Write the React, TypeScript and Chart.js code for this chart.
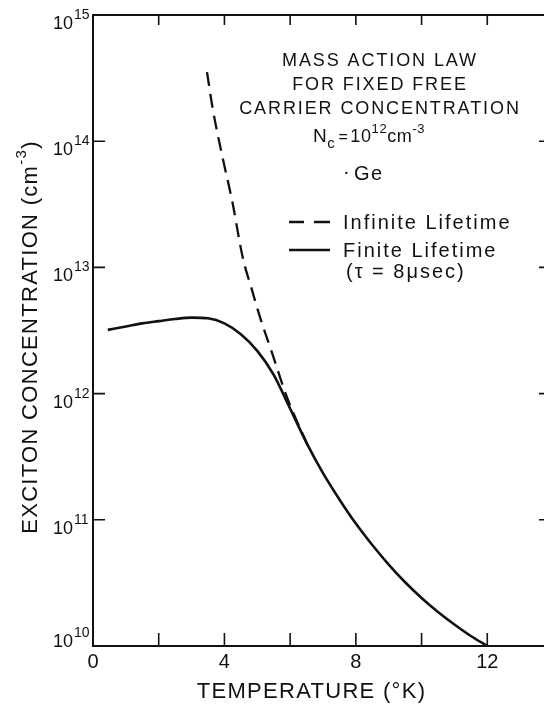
import { useEffect, useRef } from "react";
import { Chart, registerables } from "chart.js";

Chart.register(...registerables);

const FONT = '"Liberation Sans", Arial, sans-serif';
const INK = "#111";

// Finite lifetime (tau = 8 usec) curve
const TEMP_FINITE = [0.45, 1.0, 1.5, 2.0, 2.5, 3.0, 3.5, 4.0, 4.5, 5.0, 5.5, 6.0, 6.5, 7.0, 7.5, 8.0, 8.5, 9.0, 9.5, 10.0, 10.5, 11.0, 11.5, 12.0];
const CONC_FINITE = [3.2e12, 3.4e12, 3.6e12, 3.75e12, 3.9e12, 4.0e12, 3.95e12, 3.6e12, 2.95e12, 2.18e12, 1.41e12, 7.6e11, 4.07e11, 2.34e11, 1.45e11, 9.33e10, 6.31e10, 4.42e10, 3.2e10, 2.4e10, 1.86e10, 1.48e10, 1.2e10, 1.0e10];

// Infinite lifetime curve
const TEMP_INFINITE = [3.47, 3.65, 3.96, 4.23, 4.56, 4.84, 5.08, 5.45, 5.9, 6.6];
const CONC_INFINITE = [3.53e14, 1.77e14, 7.1e13, 3.42e13, 1.19e13, 6.6e12, 4.05e12, 2.1e12, 9.4e11, 3.57e11];

const X_MIN = 0;
const X_MAX = 14;
const X_TICKS = [2, 4, 6, 8, 10, 12];
const X_TICK_LABELS = [0, 4, 8, 12];
const Y_DECADES = [10, 11, 12, 13, 14, 15];

const X_TITLE = "TEMPERATURE (°K)";
const Y_TITLE = "EXCITON CONCENTRATION (cm";
const Y_TITLE_EXP = "-3";
const NOTE_LINES = ["MASS ACTION LAW", "FOR FIXED FREE", "CARRIER CONCENTRATION"];
const MATERIAL = "Ge";
const LEGEND_LABELS = ["Infinite Lifetime", "Finite Lifetime"];
const LIFETIME_NOTE = "(τ = 8μsec)";

type Piece = { text: string; size: number; rise: number; gap?: number };

function drawPieces(ctx: CanvasRenderingContext2D, pieces: Piece[], x: number, y: number, spacing = 0) {
  let cx = x;
  for (const p of pieces) {
    ctx.font = `${p.size}px ${FONT}`;
    ctx.letterSpacing = `${spacing}px`;
    ctx.fillText(p.text, cx, y - p.rise);
    cx += ctx.measureText(p.text).width + (p.gap ?? 0);
  }
  return cx;
}

function piecesWidth(ctx: CanvasRenderingContext2D, pieces: Piece[], spacing = 0) {
  let w = 0;
  for (const p of pieces) {
    ctx.font = `${p.size}px ${FONT}`;
    ctx.letterSpacing = `${spacing}px`;
    w += ctx.measureText(p.text).width + (p.gap ?? 0);
  }
  return w;
}

const decorations = {
  id: "decorations",
  afterDatasetsDraw(chart: any) {
    const { ctx, chartArea: a, scales } = chart;
    const xs = scales.x;
    const ys = scales.y;
    ctx.save();
    ctx.fillStyle = INK;
    ctx.strokeStyle = INK;
    ctx.lineCap = "butt";

    // frame
    ctx.lineWidth = 2;
    ctx.strokeRect(a.left, a.top, a.right - a.left, a.bottom - a.top);

    // ticks pointing into the plot
    ctx.lineWidth = 1.6;
    ctx.beginPath();
    for (const t of X_TICKS) {
      const px = xs.getPixelForValue(t);
      ctx.moveTo(px, a.bottom);
      ctx.lineTo(px, a.bottom - 13);
      ctx.moveTo(px, a.top);
      ctx.lineTo(px, a.top + 10);
    }
    for (const d of Y_DECADES.slice(1, -1)) {
      const py = ys.getPixelForValue(Math.pow(10, d));
      ctx.moveTo(a.left, py);
      ctx.lineTo(a.left + 12, py);
      ctx.moveTo(a.right, py);
      ctx.lineTo(a.right - 14, py);
    }
    ctx.stroke();

    // x tick labels
    ctx.font = `20px ${FONT}`;
    ctx.letterSpacing = "0px";
    ctx.textAlign = "center";
    ctx.textBaseline = "alphabetic";
    for (const t of X_TICK_LABELS) {
      ctx.fillText(String(t), xs.getPixelForValue(t), a.bottom + 22);
    }

    // y tick labels: 10 with raised exponent
    for (const d of Y_DECADES) {
      const py = ys.getPixelForValue(Math.pow(10, d));
      const shift = d === Y_DECADES[0] ? -13 : 0;
      ctx.textAlign = "right";
      ctx.font = `18px ${FONT}`;
      ctx.fillText("10", a.left - 20, py + 14 + shift);
      ctx.textAlign = "left";
      ctx.font = `14px ${FONT}`;
      ctx.fillText(String(d), a.left - 19, py + 4 + shift);
    }

    // x axis title
    ctx.textAlign = "center";
    ctx.font = `22px ${FONT}`;
    ctx.letterSpacing = "1.3px";
    ctx.fillText(X_TITLE, (a.left + 530) / 2, 698);

    // y axis title, rotated
    ctx.save();
    ctx.translate(37, 337);
    ctx.rotate(-Math.PI / 2);
    ctx.textAlign = "left";
    const yTitle: Piece[] = [
      { text: Y_TITLE, size: 22, rise: 0 },
      { text: Y_TITLE_EXP, size: 15, rise: 11 },
      { text: ")", size: 22, rise: 0 },
    ];
    const yw = piecesWidth(ctx, yTitle, 1.3);
    drawPieces(ctx, yTitle, -yw / 2, 0, 1.3);
    ctx.restore();

    // annotation block
    ctx.textAlign = "center";
    ctx.font = `18px ${FONT}`;
    ctx.letterSpacing = "1.9px";
    NOTE_LINES.forEach((line, i) => ctx.fillText(line, 380, 66 + i * 24));

    ctx.textAlign = "left";
    const nc: Piece[] = [
      { text: "N", size: 19, rise: 0 },
      { text: "c", size: 15, rise: -6, gap: 3 },
      { text: "=", size: 16, rise: 0, gap: 2 },
      { text: "10", size: 18, rise: 0 },
      { text: "12", size: 13, rise: 9 },
      { text: "cm", size: 18, rise: 0 },
      { text: "-3", size: 13, rise: 9 },
    ];
    drawPieces(ctx, nc, 313, 142, 0.6);

    ctx.font = `20px ${FONT}`;
    ctx.letterSpacing = "1.5px";
    ctx.fillText("·", 343, 178);
    ctx.fillText(MATERIAL, 354, 180);

    // legend
    ctx.letterSpacing = "2px";
    ctx.font = `20px ${FONT}`;
    ctx.fillText(LEGEND_LABELS[0], 343, 229);
    ctx.fillText(LEGEND_LABELS[1], 343, 257);
    ctx.fillText(LIFETIME_NOTE, 346, 278);

    ctx.lineWidth = 2.4;
    ctx.beginPath();
    ctx.moveTo(289, 222);
    ctx.lineTo(304, 222);
    ctx.moveTo(314, 222);
    ctx.lineTo(330, 222);
    ctx.moveTo(289, 250);
    ctx.lineTo(330, 250);
    ctx.stroke();

    ctx.restore();
  },
};

export default function App() {
  const canvasRef = useRef<HTMLCanvasElement | null>(null);

  useEffect(() => {
    const canvas = canvasRef.current;
    if (!canvas) return;
    const chart = new Chart(canvas, {
      type: "line",
      data: {
        datasets: [
          {
            label: LEGEND_LABELS[0],
            data: TEMP_INFINITE.map((t, i) => ({ x: t, y: CONC_INFINITE[i] })),
            borderColor: INK,
            borderWidth: 2.3,
            borderDash: [14, 8],
            pointRadius: 0,
            cubicInterpolationMode: "monotone",
            fill: false,
          },
          {
            label: LEGEND_LABELS[1],
            data: TEMP_FINITE.map((t, i) => ({ x: t, y: CONC_FINITE[i] })),
            borderColor: INK,
            borderWidth: 2.6,
            pointRadius: 0,
            cubicInterpolationMode: "monotone",
            fill: false,
          },
        ],
      },
      options: {
        animation: false,
        responsive: false,
        events: [],
        layout: { padding: { left: 93, top: 15, right: 17, bottom: 58 } },
        scales: {
          x: { type: "linear", min: X_MIN, max: X_MAX, display: false },
          y: { type: "logarithmic", min: 1e10, max: 1e15, display: false },
        },
        plugins: {
          legend: { display: false },
          tooltip: { enabled: false },
        },
      },
      plugins: [decorations],
    });
    return () => chart.destroy();
  }, []);

  return (
    <div style={{ position: "fixed", left: 0, top: 0, width: 544, height: 704, overflow: "hidden", background: "#fff" }}>
      <canvas ref={canvasRef} width={570} height={704} style={{ display: "block" }} />
    </div>
  );
}
